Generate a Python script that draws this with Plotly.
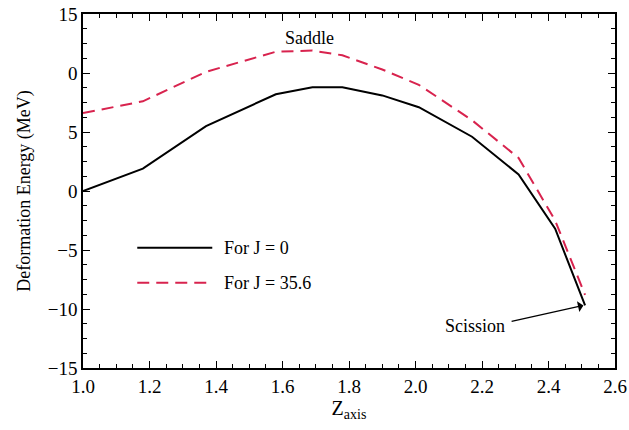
import plotly.graph_objects as go

z_axis = [1.0, 1.18, 1.37, 1.58, 1.69, 1.78, 1.90, 2.01, 2.17, 2.31, 2.42, 2.51]
energy_j0 = [0.0, 1.9, 5.5, 8.2, 8.8, 8.8, 8.1, 7.1, 4.6, 1.4, -3.2, -9.7]
energy_j356 = [6.6, 7.6, 10.1, 11.8, 11.9, 11.5, 10.3, 9.0, 6.0, 2.8, -2.5, -8.8]

y_tickvals = [-15, -10, -5, 0, 5, 10, 15]
y_ticktext = ["\u221215", "\u221210", "\u22125", "0", "5", "0", "15"]
x_tickvals = [1.0, 1.2, 1.4, 1.6, 1.8, 2.0, 2.2, 2.4, 2.6]
x_ticktext = ["1.0", "1.2", "1.4", "1.6", "1.8", "2.0", "2.2", "2.4", "2.6"]

FONT = "Liberation Serif, Times New Roman, DejaVu Serif, serif"
RED = "#d8234e"

fig = go.Figure()
fig.add_trace(go.Scatter(x=z_axis, y=energy_j0, mode="lines",
                         line=dict(color="black", width=2), name="For J = 0",
                         showlegend=False))
fig.add_trace(go.Scatter(x=z_axis, y=energy_j356, mode="lines",
                         line=dict(color=RED, width=2, dash="12px,7px"), name="For J = 35.6",
                         showlegend=False))

# manual legend
fig.add_shape(type="line", xref="paper", yref="paper", x0=0.102, x1=0.243, y0=0.34, y1=0.34,
              line=dict(color="black", width=2))
fig.add_shape(type="line", xref="paper", yref="paper", x0=0.102, x1=0.243, y0=0.241, y1=0.241,
              line=dict(color=RED, width=2, dash="12px,7px"))
fig.add_annotation(xref="paper", yref="paper", x=0.262, y=0.34, text="For J = 0",
                   showarrow=False, xanchor="left", yanchor="middle",
                   font=dict(family=FONT, size=18, color="black"))
fig.add_annotation(xref="paper", yref="paper", x=0.262, y=0.241, text="For J = 35.6",
                   showarrow=False, xanchor="left", yanchor="middle",
                   font=dict(family=FONT, size=18, color="black"))

fig.add_annotation(x=1.68, y=13.0, text="Saddle", showarrow=False,
                   font=dict(family=FONT, size=18, color="black"))
fig.add_annotation(x=2.505, y=-9.7, ax=2.28, ay=-11.1, axref="x", ayref="y",
                   text=" ", showarrow=True, arrowhead=1, arrowsize=1.5, arrowwidth=1.2,
                   arrowcolor="black")
fig.add_annotation(x=2.275, y=-11.4, text="Scission", showarrow=False, xanchor="right",
                   font=dict(family=FONT, size=18, color="black"))

axis_common = dict(showgrid=False, zeroline=False, showline=True, linecolor="black",
                   linewidth=1.5, mirror="allticks", ticks="inside", ticklen=7,
                   tickwidth=1.2, tickcolor="black", automargin=False,
                   tickfont=dict(family=FONT, size=19, color="black"))

fig.update_xaxes(range=[1.0, 2.6], tickvals=x_tickvals, ticktext=x_ticktext,
                 minor=dict(ticks="inside", ticklen=4, dtick=0.05, tick0=1.0,
                            tickcolor="black", tickwidth=1),
                 title=dict(text="Z<sub>axis</sub>", font=dict(family=FONT, size=20, color="black"),
                            standoff=4),
                 **axis_common)
fig.update_yaxes(range=[-15, 15], tickvals=y_tickvals, ticktext=y_ticktext,
                 minor=dict(ticks="inside", ticklen=4, dtick=1.25, tick0=-15,
                            tickcolor="black", tickwidth=1),
                 title=dict(text="Deformation Energy (MeV)",
                            font=dict(family=FONT, size=18, color="black"), standoff=12),
                 **axis_common)

fig.update_layout(width=629, height=430, margin=dict(l=83, r=14, t=14, b=62),
                  paper_bgcolor="white", plot_bgcolor="white", showlegend=False)

fig.write_html("out.html")
